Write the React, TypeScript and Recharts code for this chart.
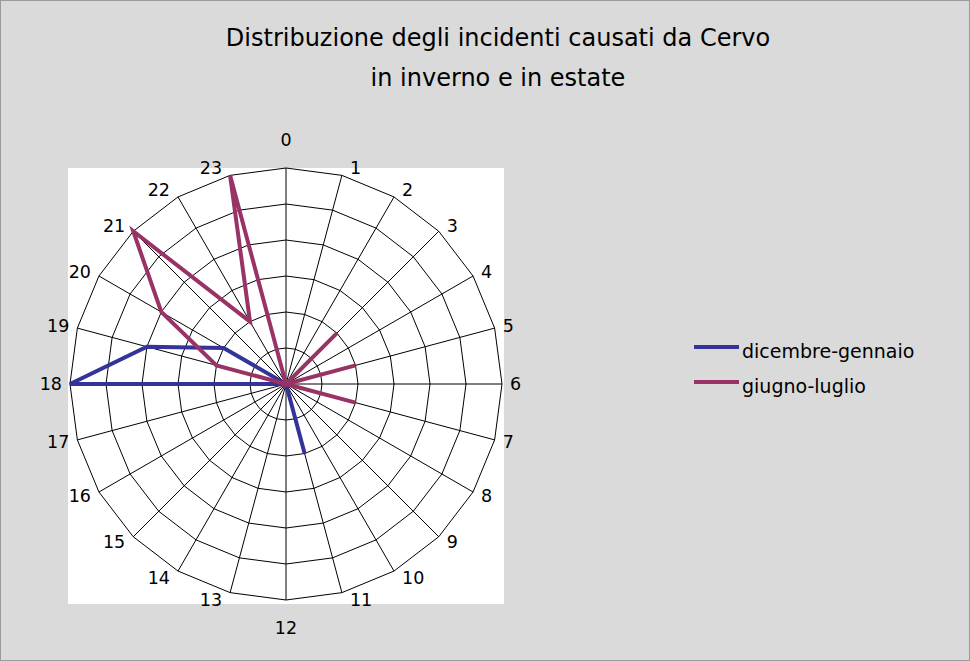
import { RadarChart, Radar, PolarGrid, PolarAngleAxis, PolarRadiusAxis, Legend } from 'recharts'

// hours of the day, clockwise from the top
const hours = ['0', '1', '2', '3', '4', '5', '6', '7', '8', '9', '10', '11', '12', '13', '14', '15', '16', '17', '18', '19', '20', '21', '22', '23']
// incidents in December-January
const inverno = [0, 0, 0, 0, 0, 0, 0, 0, 0, 0, 0, 2, 0, 0, 0, 0, 0, 0, 6, 4, 2, 0, 0, 0]
// incidents in June-July
const estate = [0, 0, 0, 2, 0, 2, 0, 2, 0, 0, 0, 0, 0, 0, 0, 0, 0, 0, 0, 2, 4, 6, 2, 6]

const data = hours.map((h, i) => ({ ora: h, inverno: inverno[i], estate: estate[i] }))

const W = 970
const H = 661
const CX = 285
const CY = 383
const R = 216
const FONT = '"DejaVu Sans", sans-serif'

// Excel-like placement: label hangs off the end of each spoke
// eslint-disable-next-line @typescript-eslint/no-explicit-any
function HourTick({ x, y, payload }: any) {
  const a = Math.atan2(y - CY, x - CX)
  const c = Math.cos(a)
  const s = Math.sin(a)
  const vx = CX + R * c
  const vy = CY + R * s
  const vertical = Math.abs(c) < 0.01
  const anchor = vertical ? 'middle' : c > 0 ? 'start' : 'end'
  const tx = vertical ? vx : vx + Math.sign(c) * 8
  const ty = vertical ? vy + Math.sign(s) * 28 : vy + s * 8
  return (
    <text
      x={tx}
      y={ty}
      textAnchor={anchor}
      dominantBaseline="central"
      fontFamily={FONT}
      fontSize={17.5}
      fill="#000"
    >
      {payload.value}
    </text>
  )
}

function LegendBox() {
  const items = [
    { name: 'dicembre-gennaio', color: '#333399' },
    { name: 'giugno-luglio', color: '#993366' },
  ]
  return (
    <div style={{ fontFamily: FONT, fontSize: 19, color: '#000' }}>
      {items.map(it => (
        <div key={it.name} style={{ display: 'flex', alignItems: 'center', height: 35 }}>
          <div style={{ width: 45, height: 4, background: it.color, marginRight: 3, marginTop: -8 }} />
          <span>{it.name}</span>
        </div>
      ))}
    </div>
  )
}

export default function App() {
  return (
    <div
      style={{
        position: 'absolute',
        left: 0,
        top: 0,
        width: W - 2,
        height: H - 2,
        background: '#dadada',
        border: '1px solid #9a9a9a',
        overflow: 'hidden',
      }}
    >
      <div style={{ position: 'absolute', left: 67, top: 167, width: 436, height: 436, background: '#fff' }} />
      <div
        style={{
          position: 'absolute',
          left: 0,
          top: 17,
          width: 994,
          textAlign: 'center',
          fontFamily: FONT,
          fontSize: 24,
          lineHeight: '40px',
          color: '#000',
        }}
      >
        Distribuzione degli incidenti causati da Cervo
        <br />
        in inverno e in estate
      </div>
      <div style={{ position: 'absolute', left: 0, top: 0 }}>
        <RadarChart width={W} height={H} data={data} cx={CX} cy={CY} outerRadius={R} startAngle={90} endAngle={-270}>
          <PolarGrid gridType="polygon" stroke="#000" strokeWidth={1} />
          <PolarAngleAxis dataKey="ora" tick={<HourTick />} axisLine={false} tickLine={false} />
          <PolarRadiusAxis domain={[0, 6]} tickCount={7} axisLine={false} tick={false} />
          <Radar
            name="dicembre-gennaio"
            dataKey="inverno"
            stroke="#333399"
            strokeWidth={4}
            fill="none"
            fillOpacity={0}
            dot={false}
            isAnimationActive={false}
          />
          <Radar
            name="giugno-luglio"
            dataKey="estate"
            stroke="#993366"
            strokeWidth={4}
            fill="none"
            fillOpacity={0}
            dot={false}
            isAnimationActive={false}
          />
          <Legend
            layout="vertical"
            content={<LegendBox />}
            wrapperStyle={{ position: 'absolute', left: 693, top: 332, width: 270 }}
          />
        </RadarChart>
      </div>
    </div>
  )
}
